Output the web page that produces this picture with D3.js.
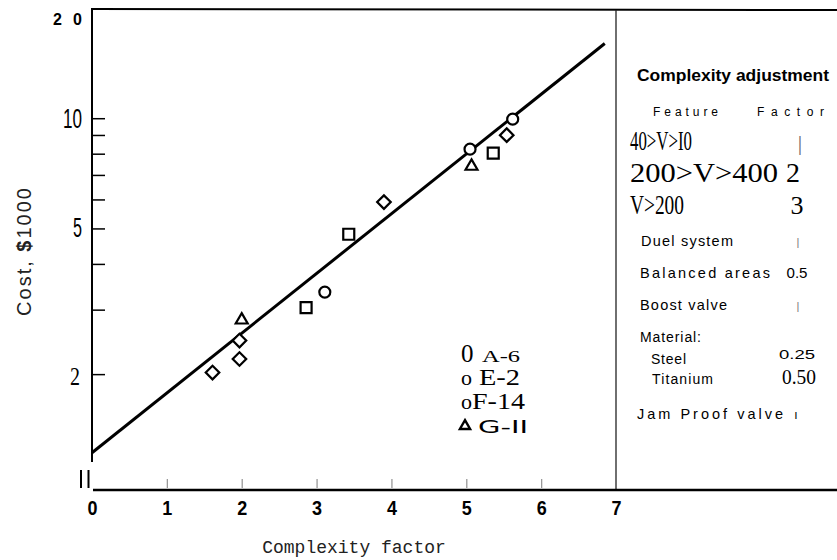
<!DOCTYPE html>
<html>
<head>
<meta charset="utf-8">
<script src="https://cdn.jsdelivr.net/npm/d3@7"></script>
<style>
  body { margin: 0; background: #fff; }
  svg { display: block; }
</style>
</head>
<body>
<script>
// cost vs complexity factor (log y), with the adjustment table on the right

const diamondPts  = [[1.61, 2.02], [1.97, 2.20], [1.97, 2.47], [3.90, 5.90], [5.54, 8.99]];
const squarePts   = [[2.86, 3.04], [3.43, 4.82], [5.36, 8.03]];
const circlePts   = [[3.11, 3.35], [5.05, 8.23], [5.62, 9.94]];
const trianglePts = [[2.00, 2.81], [5.07, 7.39]];
const fitLine     = [[0, 1.22], [6.85, 16.0]];

const xTicks = [0, 1, 2, 3, 4, 5, 6, 7];
const yTicks = [2, 3, 4, 5, 6, 7, 8, 9, 10];
const yLabelVals = [20, 10, 5, 2];
const yLabelText = ["2 0", "10", "5", "2"];

const legendSyms  = ["0", "o", "o", "△"];
const legendNames = ["A-6", "E-2", "F-14", "G-II"];

const adjTitle    = "Complexity adjustment";
const adjHeader   = ["Feature", "Factor"];
const adjFeatures = ["40>V>I0", "200>V>400", "V>200", "Duel system", "Balanced areas",
                     "Boost valve", "Material:", "Steel", "Titanium", "Jam Proof valve"];
const adjFactors  = ["|", "2", "3", "|", "0.5", "|", "", "0.25", "0.50", "ı"];

const W = 837, H = 560;

const svg = d3.select("body")
  .append("svg")
  .attr("width", W)
  .attr("height", H);

const x = d3.scaleLinear().domain([0, 7]).range([92, 616]);
const y = d3.scaleLog().domain([0.965, 20]).range([490, 8]);

// frame lines
svg.append("line")
  .attr("x1", 92).attr("x2", W).attr("y1", 9).attr("y2", 10)
  .attr("stroke", "#000").attr("stroke-width", 2);
svg.append("line")
  .attr("x1", 92).attr("x2", 92).attr("y1", 8).attr("y2", 462)
  .attr("stroke", "#000").attr("stroke-width", 2);
svg.append("line")
  .attr("x1", 616).attr("x2", 616).attr("y1", 10).attr("y2", 490)
  .attr("stroke", "#222").attr("stroke-width", 1.3);
svg.selectAll("line.brk")
  .data([81, 88.5])
  .enter()
  .append("line")
  .attr("class", "brk")
  .attr("x1", d => d).attr("x2", d => d)
  .attr("y1", 470).attr("y2", 488)
  .attr("stroke", "#000").attr("stroke-width", 2);
svg.append("line")
  .attr("x1", 93).attr("x2", W).attr("y1", 490).attr("y2", 490)
  .attr("stroke", "#000").attr("stroke-width", 2.5);

// x axis
const xAxis = svg.append("g")
  .attr("transform", "translate(0,490)")
  .call(d3.axisBottom(x).tickValues(xTicks).tickFormat(d3.format("d"))
    .tickSizeInner(-11).tickSizeOuter(0).tickPadding(11));
xAxis.select(".domain").remove();
xAxis.selectAll(".tick line")
  .attr("stroke", "#999").attr("stroke-width", 1.3)
  .attr("y1", -2)
  .style("display", d => (d === 0 || d === 7) ? "none" : null);
xAxis.selectAll(".tick text")
  .attr("font-family", "Liberation Sans, Arial, sans-serif")
  .attr("font-weight", "bold")
  .attr("font-size", 20)
  .attr("textLength", 10)
  .attr("lengthAdjust", "spacingAndGlyphs")
  .attr("fill", "#000");

// y axis ticks (inside)
const yAxis = svg.append("g")
  .attr("transform", "translate(92,0)")
  .call(d3.axisLeft(y).tickValues(yTicks).tickSizeInner(-13).tickSizeOuter(0).tickFormat(""));
yAxis.select(".domain").remove();
yAxis.selectAll(".tick line").attr("stroke", "#000").attr("stroke-width", 1.5);

// y labels
const yLabStyle = [
  { fam: "Liberation Sans, Arial, sans-serif", size: 16, weight: "bold", w: 29, dy: 17 },
  { fam: "Liberation Sans, Arial, sans-serif", size: 27, weight: "normal", w: 19, dy: 10 },
  { fam: "Liberation Sans, Arial, sans-serif", size: 27, weight: "normal", w: 9, dy: 9 },
  { fam: "Liberation Serif, Times New Roman, serif", size: 25, weight: "normal", w: 10, dy: 11 }
];
svg.selectAll("text.ylab")
  .data(yLabelVals)
  .enter()
  .append("text")
  .attr("class", "ylab")
  .attr("x", (d, i) => i === 3 ? 70 : 82 - yLabStyle[i].w)
  .attr("y", (d, i) => y(d) + yLabStyle[i].dy)
  .attr("font-family", (d, i) => yLabStyle[i].fam)
  .attr("font-size", (d, i) => yLabStyle[i].size)
  .attr("font-weight", (d, i) => yLabStyle[i].weight)
  .attr("textLength", (d, i) => yLabStyle[i].w)
  .attr("lengthAdjust", (d, i) => i === 0 ? "spacing" : "spacingAndGlyphs")
  .text((d, i) => yLabelText[i]);

// axis titles
const yt = svg.append("text")
  .attr("transform", "translate(31,251) rotate(-90)")
  .attr("text-anchor", "middle")
  .attr("font-family", "Liberation Sans, Arial, sans-serif")
  .attr("font-size", 20)
  .attr("letter-spacing", 2)
  .attr("fill", "#222");
yt.append("tspan").text("Cost, ");
yt.append("tspan").attr("font-weight", "bold").text("$");
yt.append("tspan").text("1000");

svg.append("text")
  .attr("x", 354).attr("y", 553)
  .attr("text-anchor", "middle")
  .attr("font-family", "Liberation Mono, DejaVu Sans Mono, monospace")
  .attr("font-size", 18)
  .attr("fill", "#222")
  .text("Complexity factor");

// fitted line
svg.append("path")
  .datum(fitLine)
  .attr("d", d3.line().x(d => x(d[0])).y(d => y(d[1])))
  .attr("fill", "none")
  .attr("stroke", "#000")
  .attr("stroke-width", 3);

// markers
function drawPts(data, type, size, rot) {
  svg.selectAll(null)
    .data(data)
    .enter()
    .append("path")
    .attr("d", d3.symbol().type(type).size(size))
    .attr("transform", d => `translate(${x(d[0])},${y(d[1])}) rotate(${rot})`)
    .attr("fill", "#fff")
    .attr("stroke", "#000")
    .attr("stroke-width", 2.2);
}
drawPts(diamondPts, d3.symbolSquare, 92, 45);
drawPts(squarePts, d3.symbolSquare, 121, 0);
drawPts(circlePts, d3.symbolCircle, 95, 0);
drawPts(trianglePts, d3.symbolTriangle, 62, 0);

// legend
const lgY = [362, 385, 409, 433];
const lg = svg.append("g").attr("font-family", "Liberation Serif, Times New Roman, serif").attr("fill", "#000");
legendSyms.forEach((s, i) => {
  if (i === 3) {
    lg.append("path")
      .attr("d", d3.symbol().type(d3.symbolTriangle).size(45))
      .attr("transform", `translate(465,${lgY[i] - 7})`)
      .attr("fill", "#fff").attr("stroke", "#000").attr("stroke-width", 2.4);
  } else {
    lg.append("text")
      .attr("x", 461).attr("y", lgY[i])
      .attr("font-size", i === 0 ? 25 : 22)
      .text(s);
  }
});
const lgNameStyle = [
  { x: 482, size: 16, w: 38 },
  { x: 479, size: 23, w: 41 },
  { x: 472, size: 23, w: 53 },
  { x: 478, size: 18, w: 50 }
];
legendNames.forEach((n, i) => {
  lg.append("text")
    .attr("x", lgNameStyle[i].x).attr("y", lgY[i])
    .attr("font-size", lgNameStyle[i].size)
    .attr("font-family", i === 3 ? "DejaVu Sans, sans-serif" : null)
    .attr("textLength", lgNameStyle[i].w)
    .attr("lengthAdjust", "spacingAndGlyphs")
    .text(n);
});

// adjustment table
const sans = "Liberation Sans, Arial, sans-serif";
const serif = "Liberation Serif, Times New Roman, serif";
svg.append("text")
  .attr("x", 637).attr("y", 81)
  .attr("font-family", sans).attr("font-weight", "bold").attr("font-size", 16)
  .attr("textLength", 192).attr("lengthAdjust", "spacingAndGlyphs")
  .text(adjTitle);
svg.selectAll("text.hdr")
  .data(adjHeader)
  .enter()
  .append("text")
  .attr("class", "hdr")
  .attr("x", (d, i) => i === 0 ? 653 : 757)
  .attr("y", 116)
  .attr("font-family", sans).attr("font-size", 12)
  .attr("textLength", (d, i) => i === 0 ? 65 : 67)
  .attr("lengthAdjust", "spacing")
  .text(d => d);

const rowLay = [
  { y: 150, x: 630, w: 62,  fam: serif, size: 28, glyphs: true,  fx: 800, fsize: 22, ffam: serif, fcol: "#666" },
  { y: 182, x: 630, w: 148, fam: serif, size: 28, glyphs: true,  fx: 793, fsize: 28, ffam: serif, fcol: "#000" },
  { y: 214, x: 630, w: 54,  fam: serif, size: 28, glyphs: true,  fx: 797, fsize: 26, ffam: serif, fcol: "#000" },
  { y: 246, x: 641, w: 92,  fam: sans,  size: 14.5, glyphs: false, fx: 798, fsize: 11, ffam: sans, fcol: "#777" },
  { y: 278, x: 640, w: 130, fam: sans,  size: 14.5, glyphs: false, fx: 797, fsize: 14, ffam: sans, fcol: "#000" },
  { y: 310, x: 640, w: 87,  fam: sans,  size: 14.5, glyphs: false, fx: 798, fsize: 11, ffam: sans, fcol: "#777" },
  { y: 342, x: 640, w: 61,  fam: sans,  size: 14, glyphs: false, fx: 798, fsize: 11, ffam: sans, fcol: "#000" },
  { y: 364, x: 651, w: 35,  fam: sans,  size: 14, glyphs: false, fx: 797, fsize: 12, ffam: sans, fcol: "#000" },
  { y: 384, x: 652, w: 61,  fam: sans,  size: 14, glyphs: false, fx: 799, fsize: 22, ffam: serif, fcol: "#000" },
  { y: 419, x: 637, w: 146, fam: sans,  size: 14.5, glyphs: false, fx: 796, fsize: 12, ffam: sans, fcol: "#000" }
];
const factorDy = [0, 0, 0, 0, 0, 0, 0, -5, 0, 0];
const factorW  = [null, null, null, null, 21, null, null, 36, 34, null];

const rows = svg.selectAll("g.row")
  .data(adjFeatures)
  .enter()
  .append("g")
  .attr("class", "row");
rows.append("text")
  .attr("x", (d, i) => rowLay[i].x)
  .attr("y", (d, i) => rowLay[i].y)
  .attr("font-family", (d, i) => rowLay[i].fam)
  .attr("font-size", (d, i) => rowLay[i].size)
  .attr("textLength", (d, i) => rowLay[i].w)
  .attr("lengthAdjust", (d, i) => rowLay[i].glyphs ? "spacingAndGlyphs" : "spacing")
  .text(d => d);
rows.append("text")
  .attr("x", (d, i) => rowLay[i].fx)
  .attr("y", (d, i) => rowLay[i].y + factorDy[i])
  .attr("text-anchor", "middle")
  .attr("font-family", (d, i) => rowLay[i].ffam)
  .attr("font-size", (d, i) => rowLay[i].fsize)
  .attr("fill", (d, i) => rowLay[i].fcol)
  .attr("textLength", (d, i) => factorW[i])
  .attr("lengthAdjust", "spacingAndGlyphs")
  .text((d, i) => adjFactors[i]);
</script>
</body>
</html>
